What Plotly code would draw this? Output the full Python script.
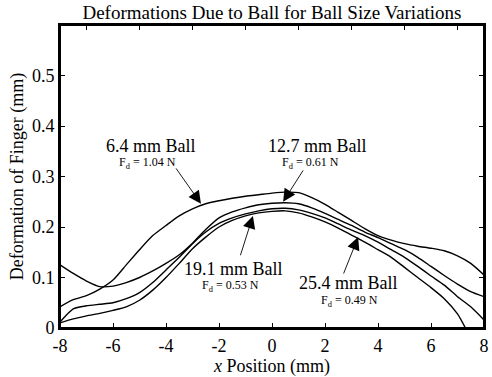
import plotly.graph_objects as go

# ---- data ----
x_a = [-8, -7.5, -7, -6.5, -6, -5.5, -5, -4.5, -4, -3.5, -3, -2.5, -2, -1.5, -1, -0.5, 0, 0.5, 1, 1.5, 2, 2.5, 3, 3.5, 4, 4.5, 5, 5.5, 6, 6.5, 7, 7.5, 8]
y_64 = [0.042, 0.056, 0.064, 0.077, 0.095, 0.125, 0.155, 0.183, 0.203, 0.222, 0.236, 0.246, 0.252, 0.257, 0.261, 0.264, 0.267, 0.269, 0.268, 0.258, 0.245, 0.229, 0.213, 0.197, 0.183, 0.174, 0.167, 0.162, 0.158, 0.153, 0.143, 0.128, 0.105]
y_127 = [0.125, 0.108, 0.093, 0.082, 0.083, 0.09, 0.1, 0.113, 0.128, 0.145, 0.168, 0.195, 0.218, 0.23, 0.238, 0.244, 0.247, 0.248, 0.246, 0.238, 0.227, 0.215, 0.203, 0.19, 0.179, 0.167, 0.155, 0.14, 0.122, 0.104, 0.087, 0.072, 0.062]
y_191 = [0.012, 0.038, 0.044, 0.047, 0.05, 0.058, 0.07, 0.09, 0.115, 0.14, 0.167, 0.19, 0.207, 0.218, 0.226, 0.232, 0.236, 0.237, 0.234, 0.227, 0.218, 0.206, 0.194, 0.183, 0.17, 0.155, 0.14, 0.122, 0.103, 0.085, 0.062, 0.042, 0.016]
x_d = [-8, -7.5, -7, -6.5, -6, -5.5, -5, -4.5, -4, -3.5, -3, -2.5, -2, -1.5, -1, -0.5, 0, 0.5, 1, 1.5, 2, 2.5, 3, 3.5, 4, 4.5, 5, 5.5, 6, 6.5, 7, 7.3]
y_254 = [0.01, 0.018, 0.024, 0.029, 0.035, 0.042, 0.055, 0.075, 0.1, 0.128, 0.157, 0.18, 0.2, 0.213, 0.222, 0.228, 0.231, 0.232, 0.228, 0.22, 0.21, 0.198, 0.184, 0.17, 0.155, 0.14, 0.12, 0.1, 0.08, 0.058, 0.028, 0.0]

x_ticks = [-8, -6, -4, -2, 0, 2, 4, 6, 8]
x_top_ticks = [-7, -5, -3, -1, 1, 3, 5, 7]
y_ticks = [0, 0.1, 0.2, 0.3, 0.4, 0.5]
y_tick_labels = ["0", "0.1", "0.2", "0.3", "0.4", "0.5"]

labels = ["6.4 mm Ball", "12.7 mm Ball", "19.1 mm Ball", "25.4 mm Ball"]
forces = ["1.04", "0.61", "0.53", "0.49"]

FONT = "Liberation Serif"

fig = go.Figure()
line = dict(color="black", width=1.4, shape="spline", smoothing=0.6)
fig.add_trace(go.Scatter(x=x_a, y=y_64, mode="lines", line=line, name=labels[0]))
fig.add_trace(go.Scatter(x=x_a, y=y_127, mode="lines", line=line, name=labels[1]))
fig.add_trace(go.Scatter(x=x_a, y=y_191, mode="lines", line=line, name=labels[2]))
fig.add_trace(go.Scatter(x=x_d, y=y_254, mode="lines", line=line, name=labels[3]))
# invisible trace to activate the top axis
fig.add_trace(go.Scatter(x=[-8, 8], y=[0, 0], xaxis="x2", mode="lines",
                         line=dict(width=0), hoverinfo="skip", showlegend=False))

# annotation placements: (label x, label y, force x, force y, tail x, tail y, tip x, tip y)
placements = [
    (-4.57, 0.361, -4.68, 0.326, -3.66, 0.319, -2.68, 0.246),
    (1.70, 0.361, 1.45, 0.326, 1.21, 0.315, 0.42, 0.25),
    (-1.45, 0.117, -1.55, 0.084, -1.21, 0.141, -0.72, 0.222),
    (2.90, 0.089, 2.92, 0.054, 2.68, 0.105, 3.25, 0.180),
]
for lab, f, (tx, ty, fx, fy, ax, ay, hx, hy) in zip(labels, forces, placements):
    fig.add_annotation(x=tx, y=ty, text=lab, showarrow=False,
                       font=dict(family=FONT, size=18, color="black"))
    fig.add_annotation(x=fx, y=fy, text="F<sub>d</sub> = " + f + " N", showarrow=False,
                       font=dict(family=FONT, size=12, color="black"))
    fig.add_annotation(x=hx, y=hy, ax=ax, ay=ay, axref="x", ayref="y", text="",
                       showarrow=True, arrowhead=2, arrowsize=2.8, arrowwidth=0.9,
                       arrowcolor="black")

# plot frame
fig.add_shape(type="rect", xref="paper", yref="paper", x0=0, x1=1, y0=0, y1=1,
              line=dict(color="black", width=2), fillcolor="rgba(0,0,0,0)", layer="above")

axis_common = dict(showline=True, linecolor="black", linewidth=2,
                   ticks="inside", ticklen=5, tickwidth=1.3, tickcolor="black",
                   showgrid=False, zeroline=False, automargin=False,
                   tickfont=dict(family=FONT, size=18, color="black"))

fig.update_layout(
    width=492, height=377,
    margin=dict(l=60, r=8, t=25, b=49, autoexpand=False),
    paper_bgcolor="white", plot_bgcolor="white",
    showlegend=False,
    font=dict(family=FONT, color="black"),
    title=dict(text="Deformations Due to Ball for Ball Size Variations",
               xref="paper", x=0.5, xanchor="center", y=0.966, yanchor="middle",
               font=dict(family=FONT, size=19, color="black")),
    xaxis=dict(range=[-8, 8], tickvals=x_ticks, ticktext=[str(v) for v in x_ticks],
               mirror=False,
               title=dict(text="<i>x</i> Position (mm)", standoff=0,
                          font=dict(family=FONT, size=18, color="black")),
               **axis_common),
    xaxis2=dict(range=[-8, 8], overlaying="x", side="top", tickvals=x_top_ticks,
                showticklabels=False, **axis_common),
    yaxis=dict(range=[0, 0.6], tickvals=y_ticks, ticktext=y_tick_labels, mirror="ticks",
               title=dict(text="Deformation of Finger (mm)", standoff=4,
                          font=dict(family=FONT, size=18, color="black")),
               **axis_common),
)

fig.write_html("out.html", config={"displayModeBar": False},
               post_script="document.body.style.margin='0';document.body.style.overflow='hidden';")
